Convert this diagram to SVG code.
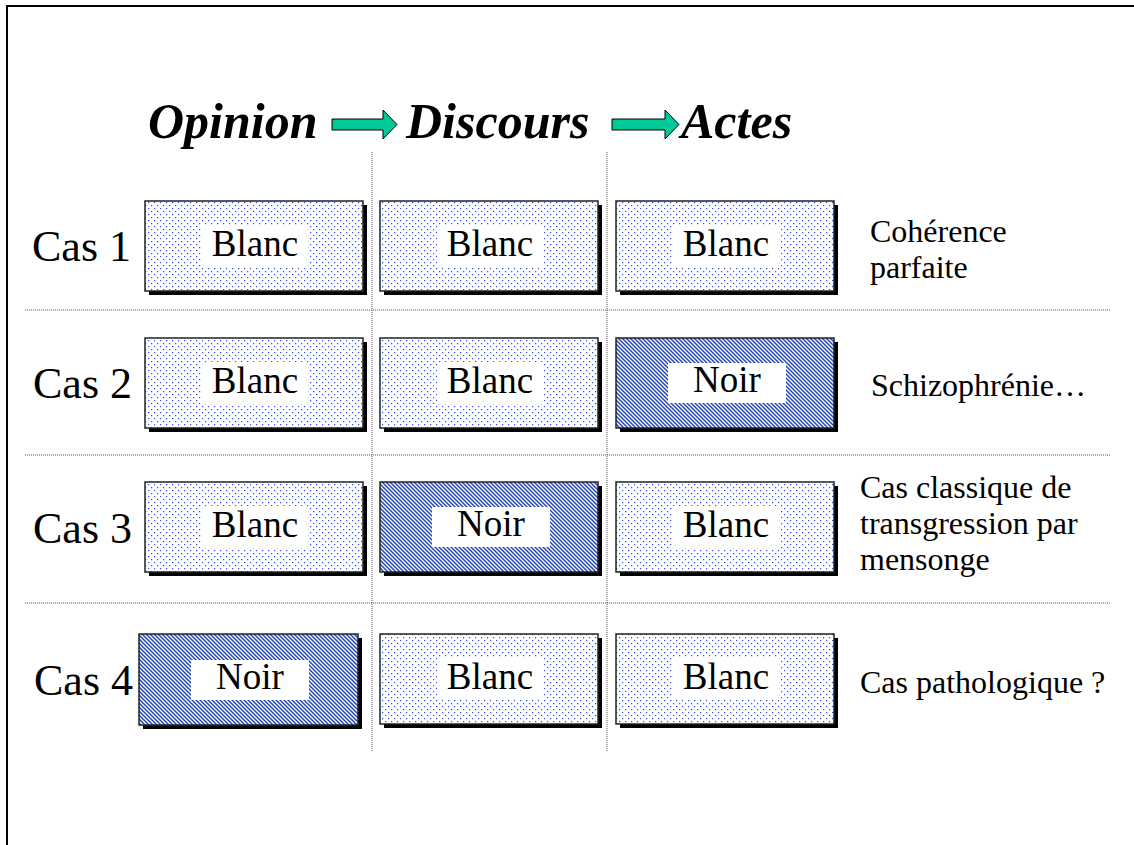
<svg xmlns="http://www.w3.org/2000/svg" width="1134" height="845" viewBox="0 0 1134 845">
<style>
text{font-family:'Liberation Serif','Times New Roman','DejaVu Serif',serif}
.hdr{font-weight:bold;font-style:italic;font-size:50px;fill:#000}
.cas{font-size:44px;fill:#000}
.lbl{font-size:37px;fill:#000;text-anchor:middle}
.note{font-size:32px;fill:#000}
.shadow{fill:#000}
.blanc{fill:url(#dots);stroke:#222;stroke-width:1.5}
.noir{fill:url(#hatch);stroke:#222;stroke-width:1.5}
.inner{fill:#fff}
.grid{stroke:#555;stroke-width:1;stroke-dasharray:1 1;fill:none}
.arrow{fill:#00C896;stroke:#000;stroke-width:1}
</style>
<defs>
<pattern id="dots" width="6" height="6" patternUnits="userSpaceOnUse">
<rect width="6" height="6" fill="#fff"/>
<rect x="1" y="1" width="1.2" height="1.2" fill="#2a4fd0"/>
<rect x="4" y="4" width="1.2" height="1.2" fill="#2a4fd0"/>
</pattern>
<pattern id="hatch" width="4" height="4" patternUnits="userSpaceOnUse">
<rect width="4" height="4" fill="#fff"/>
<path d="M-1,3 l2,2 M0,0 l4,4 M3,-1 l2,2" stroke="#1f45b8" stroke-width="1.5"/>
</pattern>
</defs>
<rect width="1134" height="845" fill="#fff"/>
<path d="M7,845 V6 H1134" fill="none" stroke="#000" stroke-width="2"/>

<g id="header" font-family="Liberation Serif, serif">
<text class="hdr" x="148" y="138">Opinion</text>
<text class="hdr" x="406" y="138">Discours</text>
<text class="hdr" x="681" y="138">Actes</text>
</g>

<g id="connectors">
<polygon class="arrow" points="332,119 383,119 383,110 397,124.5 383,139 383,130 332,130"/>
<polygon class="arrow" points="612,119 665,119 665,110 679,124.5 665,139 665,130 612,130"/>
</g>

<g id="grid">
<line class="grid" x1="372" y1="152" x2="372" y2="752"/>
<line class="grid" x1="607" y1="152" x2="607" y2="752"/>
<line class="grid" x1="25" y1="310" x2="1110" y2="310"/>
<line class="grid" x1="25" y1="455" x2="1110" y2="455"/>
<line class="grid" x1="25" y1="603" x2="1110" y2="603"/>
</g>

<g id="cas-labels" font-family="Liberation Serif, serif">
<text class="cas" x="32" y="261">Cas 1</text>
<text class="cas" x="33" y="398">Cas 2</text>
<text class="cas" x="33" y="543">Cas 3</text>
<text class="cas" x="34" y="695">Cas 4</text>
</g>

<!-- Row 1 -->
<g id="r1c1"><rect class="shadow" x="149" y="205" width="218" height="90"/><rect class="blanc" x="145" y="201" width="218" height="90"/><rect class="inner" x="202" y="225" width="106" height="42"/><text class="lbl" x="255" y="256">Blanc</text></g>
<g id="r1c2"><rect class="shadow" x="384" y="205" width="218" height="90"/><rect class="blanc" x="380" y="201" width="218" height="90"/><rect class="inner" x="437" y="225" width="106" height="42"/><text class="lbl" x="490" y="256">Blanc</text></g>
<g id="r1c3"><rect class="shadow" x="620" y="205" width="218" height="90"/><rect class="blanc" x="616" y="201" width="218" height="90"/><rect class="inner" x="673" y="225" width="106" height="42"/><text class="lbl" x="726" y="256">Blanc</text></g>

<!-- Row 2 -->
<g id="r2c1"><rect class="shadow" x="149" y="342" width="218" height="90"/><rect class="blanc" x="145" y="338" width="218" height="90"/><rect class="inner" x="202" y="362" width="106" height="42"/><text class="lbl" x="255" y="393">Blanc</text></g>
<g id="r2c2"><rect class="shadow" x="384" y="342" width="218" height="90"/><rect class="blanc" x="380" y="338" width="218" height="90"/><rect class="inner" x="437" y="362" width="106" height="42"/><text class="lbl" x="490" y="393">Blanc</text></g>
<g id="r2c3"><rect class="shadow" x="620" y="342" width="218" height="90"/><rect class="noir" x="616" y="338" width="218" height="90"/><rect class="inner" x="668" y="363" width="118" height="40"/><text class="lbl" x="727" y="392">Noir</text></g>

<!-- Row 3 -->
<g id="r3c1"><rect class="shadow" x="149" y="486" width="218" height="90"/><rect class="blanc" x="145" y="482" width="218" height="90"/><rect class="inner" x="202" y="506" width="106" height="42"/><text class="lbl" x="255" y="537">Blanc</text></g>
<g id="r3c2"><rect class="shadow" x="384" y="486" width="218" height="90"/><rect class="noir" x="380" y="482" width="218" height="90"/><rect class="inner" x="432" y="507" width="118" height="40"/><text class="lbl" x="491" y="536">Noir</text></g>
<g id="r3c3"><rect class="shadow" x="620" y="486" width="218" height="90"/><rect class="blanc" x="616" y="482" width="218" height="90"/><rect class="inner" x="673" y="506" width="106" height="42"/><text class="lbl" x="726" y="537">Blanc</text></g>

<!-- Row 4 -->
<g id="r4c1"><rect class="shadow" x="143" y="638" width="219" height="91"/><rect class="noir" x="139" y="634" width="219" height="91"/><rect class="inner" x="191" y="660" width="118" height="40"/><text class="lbl" x="250" y="689">Noir</text></g>
<g id="r4c2"><rect class="shadow" x="384" y="638" width="218" height="90"/><rect class="blanc" x="380" y="634" width="218" height="90"/><rect class="inner" x="437" y="658" width="106" height="42"/><text class="lbl" x="490" y="689">Blanc</text></g>
<g id="r4c3"><rect class="shadow" x="620" y="638" width="218" height="90"/><rect class="blanc" x="616" y="634" width="218" height="90"/><rect class="inner" x="673" y="658" width="106" height="42"/><text class="lbl" x="726" y="689">Blanc</text></g>

<g id="notes">
<text class="note" x="870" y="242">Cohérence</text>
<text class="note" x="870" y="278">parfaite</text>
<text class="note" x="871" y="396">Schizophrénie…</text>
<text class="note" x="860" y="498">Cas classique de</text>
<text class="note" x="860" y="534">transgression par</text>
<text class="note" x="860" y="570">mensonge</text>
<text class="note" x="860" y="693">Cas pathologique ?</text>
</g>
</svg>
